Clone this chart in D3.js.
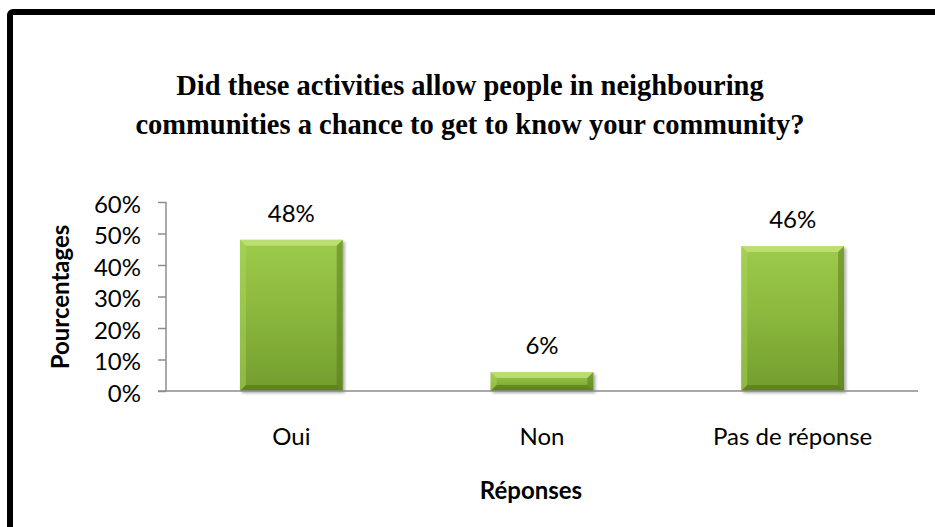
<!DOCTYPE html>
<html>
<head>
<meta charset="utf-8">
<script src="https://cdn.jsdelivr.net/npm/d3@7"></script>
<style>
  html, body { margin: 0; padding: 0; background: #fff; }
  svg { display: block; }
</style>
</head>
<body>
<svg id="chart" width="935" height="527"></svg>
<script>
// Survey answers and their shares
const categories = ["Oui", "Non", "Pas de réponse"];
const values = [0.48, 0.06, 0.46];
const valueLabels = ["48%", "6%", "46%"];
const yTicks = [0, 0.1, 0.2, 0.3, 0.4, 0.5, 0.6];
const titleLines = [
  "Did these activities allow people in neighbouring",
  "communities a chance to get to know your community?"
];
const xTitle = "Réponses";
const yTitle = "Pourcentages";

const W = 935, H = 527;
const svg = d3.select("#chart");
const sansFont = "Lato, 'Open Sans', sans-serif";
const fontSize = 24;

// Outer frame
svg.append("rect")
  .attr("x", 10).attr("y", 12)
  .attr("width", W + 20).attr("height", H + 20)
  .attr("rx", 3)
  .attr("fill", "none")
  .attr("stroke", "#000")
  .attr("stroke-width", 6);

// Title
const title = svg.append("text")
  .attr("text-anchor", "middle")
  .attr("font-family", "'Liberation Serif', 'DejaVu Serif', serif")
  .attr("font-weight", "bold")
  .attr("font-size", 28.5)
  .attr("fill", "#000");
titleLines.forEach((t, i) => {
  title.append("tspan").attr("x", 470).attr("y", 95 + i * 39).text(t);
});

// Plot area
const plot = { left: 166, right: 918, top: 202, bottom: 391 };

const x = d3.scaleBand()
  .domain(categories)
  .range([plot.left, plot.right])
  .paddingInner(0.59)
  .paddingOuter(0.295);

const y = d3.scaleLinear()
  .domain([0, 0.6])
  .range([plot.bottom, plot.top]);

// Bar fill and drop shadow
const defs = svg.append("defs");
const grad = defs.append("linearGradient")
  .attr("id", "barFill").attr("x1", 0).attr("y1", 0).attr("x2", 0).attr("y2", 1);
grad.append("stop").attr("offset", "0%").attr("stop-color", "#9dcb4a");
grad.append("stop").attr("offset", "45%").attr("stop-color", "#8cb93e");
grad.append("stop").attr("offset", "100%").attr("stop-color", "#729d2d");

const shadow = defs.append("filter").attr("id", "barShadow")
  .attr("x", "-10%").attr("y", "-10%").attr("width", "130%").attr("height", "130%");
shadow.append("feGaussianBlur").attr("in", "SourceAlpha").attr("stdDeviation", 1.5).attr("result", "b");
shadow.append("feOffset").attr("in", "b").attr("dx", 1.5).attr("dy", 1.5).attr("result", "o");
shadow.append("feComponentTransfer").attr("in", "o").attr("result", "s")
  .append("feFuncA").attr("type", "linear").attr("slope", 0.35);
const merge = shadow.append("feMerge");
merge.append("feMergeNode").attr("in", "s");
merge.append("feMergeNode").attr("in", "SourceGraphic");

// Y axis
const yAxis = d3.axisLeft(y)
  .tickValues(yTicks)
  .tickSize(8)
  .tickPadding(17)
  .tickFormat(d3.format(".0%"));
const gy = svg.append("g")
  .attr("transform", `translate(${plot.left},0)`)
  .call(yAxis);
gy.select(".domain").attr("stroke", "#8c8c8c").attr("stroke-width", 1.5)
  .attr("d", `M0,${plot.top}V${plot.bottom}`);
gy.selectAll(".tick line").attr("stroke", "#8c8c8c").attr("stroke-width", 1.5);
gy.selectAll(".tick text")
  .attr("dy", "0.42em")
  .attr("font-family", sansFont).attr("font-size", fontSize).attr("fill", "#000");

// Bars with bevelled edges
const bars = svg.append("g").selectAll("g.bar")
  .data(categories.map((c, i) => ({ c, v: values[i], label: valueLabels[i] })))
  .join("g").attr("class", "bar");

bars.append("rect")
  .attr("x", d => x(d.c))
  .attr("y", d => y(d.v))
  .attr("width", x.bandwidth())
  .attr("height", d => y(0) - y(d.v))
  .attr("fill", "url(#barFill)")
  .attr("filter", "url(#barShadow)");

const bev = 6;
bars.each(function(d) {
  const g = d3.select(this);
  const x0 = x(d.c), x1 = x0 + x.bandwidth();
  const y0 = y(d.v), y1 = y(0);
  const b = Math.min(bev, (y1 - y0) / 2);
  // top edge highlight
  g.append("path")
    .attr("d", `M${x0},${y0}L${x1},${y0}L${x1 - b},${y0 + b}L${x0 + b},${y0 + b}Z`)
    .attr("fill", "#c6e47e").attr("opacity", 0.75);
  // left edge highlight
  g.append("path")
    .attr("d", `M${x0},${y0}L${x0 + b},${y0 + b}L${x0 + b},${y1 - b}L${x0},${y1}Z`)
    .attr("fill", "#aed660").attr("opacity", 0.45);
  // right edge shade
  g.append("path")
    .attr("d", `M${x1},${y0}L${x1},${y1}L${x1 - b},${y1 - b}L${x1 - b},${y0 + b}Z`)
    .attr("fill", "#55761d").attr("opacity", 0.5);
  // bottom edge shade
  g.append("path")
    .attr("d", `M${x0},${y1}L${x1},${y1}L${x1 - b},${y1 - b}L${x0 + b},${y1 - b}Z`)
    .attr("fill", "#4f6e1a").attr("opacity", 0.55);
});

// Value labels
bars.append("text")
  .attr("x", d => x(d.c) + x.bandwidth() / 2)
  .attr("y", d => y(d.v) - 18)
  .attr("text-anchor", "middle")
  .attr("font-family", sansFont).attr("font-size", fontSize).attr("fill", "#000")
  .text(d => d.label);

// X axis
const xAxis = d3.axisBottom(x).tickSize(0).tickPadding(37);
const gx = svg.append("g")
  .attr("transform", `translate(0,${plot.bottom})`)
  .call(xAxis);
gx.select(".domain").attr("stroke", "#8c8c8c").attr("stroke-width", 1.5)
  .attr("d", `M${plot.left - 8},0H${plot.right}`);
gx.selectAll(".tick text")
  .attr("font-family", sansFont).attr("font-size", fontSize).attr("fill", "#000");

// Axis titles
svg.append("text")
  .attr("x", 531).attr("y", 499)
  .attr("text-anchor", "middle")
  .attr("font-family", sansFont).attr("font-weight", "bold").attr("font-size", fontSize)
  .text(xTitle);

svg.append("text")
  .attr("transform", `translate(69,297) rotate(-90)`)
  .attr("text-anchor", "middle")
  .attr("font-family", sansFont).attr("font-weight", "bold").attr("font-size", fontSize)
  .text(yTitle);
</script>
</body>
</html>
